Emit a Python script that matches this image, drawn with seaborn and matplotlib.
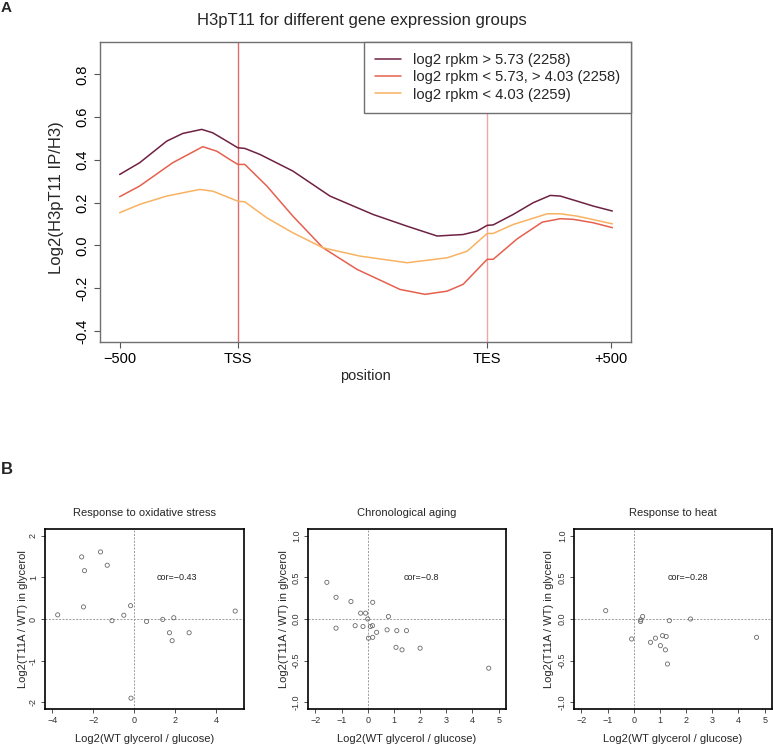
import numpy as np
import pandas as pd
import matplotlib
matplotlib.use("Agg")
import matplotlib.pyplot as plt
from matplotlib.ticker import FormatStrFormatter
import seaborn as sns

# ---------------- data: panel A ----------------
group_labels = ["log2 rpkm > 5.73 (2258)",
                "log2 rpkm < 5.73, > 4.03 (2258)",
                "log2 rpkm < 4.03 (2259)"]
group_colors = ["#6E2142", "#E5604E", "#F8B262"]

pos_high = [0, 20, 47, 63, 82, 93, 107, 118, 125, 140, 173, 210, 253, 287, 317,
            343, 357, 367, 373, 393, 413, 430, 440, 457, 473, 492]
val_high = [0.332, 0.387, 0.488, 0.524, 0.543, 0.527, 0.488, 0.457, 0.454, 0.426,
            0.348, 0.231, 0.145, 0.090, 0.044, 0.051, 0.067, 0.094, 0.096, 0.145,
            0.200, 0.234, 0.231, 0.207, 0.184, 0.161]

pos_mid = [0, 20, 53, 83, 97, 110, 118, 125, 147, 173, 203, 237, 280, 305, 327,
           343, 367, 373, 397, 422, 440, 453, 473, 492]
val_mid = [0.228, 0.278, 0.387, 0.462, 0.441, 0.402, 0.379, 0.379, 0.278, 0.137,
           -0.011, -0.112, -0.206, -0.229, -0.214, -0.182, -0.065, -0.065, 0.031,
           0.109, 0.125, 0.122, 0.106, 0.083]

pos_low = [0, 20, 47, 80, 93, 118, 125, 147, 173, 203, 240, 287, 327, 347, 367,
           373, 393, 427, 440, 457, 492]
val_low = [0.153, 0.192, 0.231, 0.262, 0.254, 0.207, 0.204, 0.129, 0.059, -0.011,
           -0.050, -0.081, -0.058, -0.027, 0.056, 0.056, 0.098, 0.148, 0.148,
           0.137, 0.101]

xtick_pos = [0, 118, 367, 491]
xtick_labels = ["\u2212500", "TSS", "TES", "+500"]
ytick_vals = [-0.4, -0.2, 0.0, 0.2, 0.4, 0.6, 0.8]

# ---------------- data: panel B ----------------
titles_b = ["Response to oxidative stress", "Chronological aging", "Response to heat"]
cor_labels = ["cor=\u22120.43", "cor=\u22120.8", "cor=\u22120.28"]

ox_x = [-3.74, -2.57, -1.65, -2.43, -1.32, -2.48, -1.09, -0.51, -0.18, 0.60,
        1.39, 1.93, 1.72, 1.85, 2.68, 4.93, -0.16]
ox_y = [0.10, 1.49, 1.61, 1.16, 1.29, 0.29, -0.04, 0.09, 0.32, -0.06,
        -0.01, 0.03, -0.33, -0.52, -0.33, 0.19, -1.90]

age_x = [-1.56, -1.21, -1.21, -0.64, -0.27, -0.08, 0.19, -0.48, -0.18, 0.00,
         0.10, 0.18, 0.03, 0.19, 0.34, 0.79, 0.74, 1.11, 1.48, 1.08, 1.31,
         2.00, 4.62]
age_y = [0.44, 0.26, -0.11, 0.21, 0.07, 0.07, 0.20, -0.08, -0.09, 0.00,
         -0.09, -0.08, -0.23, -0.22, -0.16, 0.03, -0.13, -0.14, -0.14, -0.34,
         -0.37, -0.35, -0.59]

heat_x = [-1.07, -0.08, 0.26, 0.27, 0.34, 0.64, 0.83, 1.02, 1.10, 1.24, 1.21,
          1.29, 1.36, 2.17, 4.69]
heat_y = [0.10, -0.24, -0.03, -0.01, 0.03, -0.28, -0.23, -0.32, -0.20, -0.21,
          -0.37, -0.54, -0.02, 0.00, -0.22]

# ---------------- style ----------------
sns.set_theme(style="white")
plt.rcParams["font.family"] = ["Liberation Sans", "DejaVu Sans"]
plt.rcParams["axes.unicode_minus"] = True

W, H = 773, 745
fig = plt.figure(figsize=(W / 100, H / 100), dpi=100)


def fr(x0, y0, x1, y1):
    return [x0 / W, 1 - y1 / H, (x1 - x0) / W, (y1 - y0) / H]


# ---------------- panel A ----------------
axA = fig.add_axes(fr(100, 42, 631, 342))
df = pd.concat([
    pd.DataFrame({"position": pos_high, "value": val_high, "group": group_labels[0]}),
    pd.DataFrame({"position": pos_mid, "value": val_mid, "group": group_labels[1]}),
    pd.DataFrame({"position": pos_low, "value": val_low, "group": group_labels[2]}),
])
axA.axvline(xtick_pos[1], color="#DC6B6B", lw=1.0, zorder=1)
axA.axvline(xtick_pos[2], color="#F4A5A7", lw=1.0, zorder=1)
sns.lineplot(data=df, x="position", y="value", hue="group",
             palette=dict(zip(group_labels, group_colors)),
             estimator=None, sort=False, lw=1.1, ax=axA, legend=False, zorder=3)
axA.set_xlim(-19.6, 510.6)
axA.set_ylim(-0.452, 0.952)
axA.set_xticks(xtick_pos)
axA.set_xticklabels(xtick_labels)
axA.set_yticks(ytick_vals)
axA.yaxis.set_major_formatter(FormatStrFormatter("%.1f"))
axA.tick_params(axis="both", direction="out", length=4, width=0.8, color="#555555",
                labelsize=10.5, labelcolor="black", bottom=True, left=True)
axA.tick_params(axis="x", pad=3)
axA.tick_params(axis="y", pad=4, labelrotation=90)
for lab in axA.get_yticklabels():
    lab.set_va("center")
for sp in axA.spines.values():
    sp.set_color("#707070")
    sp.set_linewidth(1.0)
axA.set_xlabel("position", fontsize=10.5)
axA.xaxis.set_label_coords(0.5, -(376 - 342) / 300)
axA.xaxis.label.set_va("center")
axA.set_ylabel("Log2(H3pT11 IP/H3)", fontsize=12)
axA.yaxis.set_label_coords(-(100 - 57) / 531, 0.48)
axA.yaxis.label.set_va("center")
handles = axA.get_lines()[2:5]
leg = axA.legend(handles, group_labels, loc="upper right", fontsize=10.6,
                 frameon=True, fancybox=False, framealpha=1, edgecolor="#707070",
                 borderaxespad=0, handlelength=1.8, handletextpad=0.8,
                 labelspacing=0.22, borderpad=0.75)
leg.get_frame().set_linewidth(1.0)
leg.set_zorder(5)
fig.text(362 / W, 1 - 20 / H, "H3pT11 for different gene expression groups",
         ha="center", va="center", fontsize=12)
fig.text(6 / W, 1 - 8 / H, "A", ha="center", va="center", fontsize=11, fontweight="bold")

# ---------------- panel B ----------------
fig.text(7 / W, 1 - 469 / H, "B", ha="center", va="center", fontsize=12, fontweight="bold")

boxes = [(45, 244), (308, 506), (574, 772)]
xs = [ox_x, age_x, heat_x]
ys = [ox_y, age_y, heat_y]
xlims = [(-4.36, 5.36), (-2.28, 5.28), (-2.28, 5.28)]
ylims = [(-2.16, 2.16), (-1.08, 1.08), (-1.08, 1.08)]
xticks_b = [[-4, -2, 0, 2, 4], [-2, -1, 0, 1, 2, 3, 4, 5], [-2, -1, 0, 1, 2, 3, 4, 5]]
yticks_b = [[-2, -1, 0, 1, 2], [-1.0, -0.5, 0.0, 0.5, 1.0], [-1.0, -0.5, 0.0, 0.5, 1.0]]
yfmt = ["%d", "%.1f", "%.1f"]
ylab_x = [23, 284, 549]
cor_pos = [(2.07, 1.0), (2.04, 0.50), (2.07, 0.50)]

for i in range(3):
    x0, x1 = boxes[i]
    ax = fig.add_axes(fr(x0, 529, x1, 709))
    ax.axvline(0, color="#9A9A9A", lw=0.7, ls=(0, (2, 1.5)), zorder=1)
    ax.axhline(0, color="#9A9A9A", lw=0.7, ls=(0, (2, 1.5)), zorder=1)
    sns.scatterplot(x=xs[i], y=ys[i], ax=ax, marker="o", s=9, color="#6A6A6A",
                    facecolor="none", edgecolor="#6A6A6A", linewidth=0.6, zorder=3)
    ax.set_xlim(*xlims[i])
    ax.set_ylim(*ylims[i])
    ax.set_xticks(xticks_b[i])
    ax.set_yticks(yticks_b[i])
    ax.yaxis.set_major_formatter(FormatStrFormatter(yfmt[i]))
    ax.tick_params(axis="both", direction="out", length=3, width=0.6, color="#333333",
                   labelsize=6.5, labelcolor="#333333", pad=2, bottom=True, left=True)
    ax.tick_params(axis="y", labelrotation=90)
    for lab in ax.get_yticklabels():
        lab.set_va("center")
    for sp in ax.spines.values():
        sp.set_color("black")
        sp.set_linewidth(1.2)
    w = x1 - x0
    ax.set_xlabel("Log2(WT glycerol / glucose)", fontsize=8)
    ax.xaxis.set_label_coords(0.5, -(739 - 709) / 180)
    ax.xaxis.label.set_va("center")
    ax.set_ylabel("Log2(T11A / WT) in glycerol", fontsize=8)
    ax.yaxis.set_label_coords(-(x0 - ylab_x[i]) / w, 0.5)
    ax.yaxis.label.set_va("center")
    ax.text(0.5, 1 + (529 - 513) / 180, titles_b[i], transform=ax.transAxes,
            ha="center", va="center", fontsize=8)
    ax.text(cor_pos[i][0], cor_pos[i][1], cor_labels[i], ha="center", va="center",
            fontsize=6.5, color="#222222")

fig.savefig("out.png", dpi=100)
